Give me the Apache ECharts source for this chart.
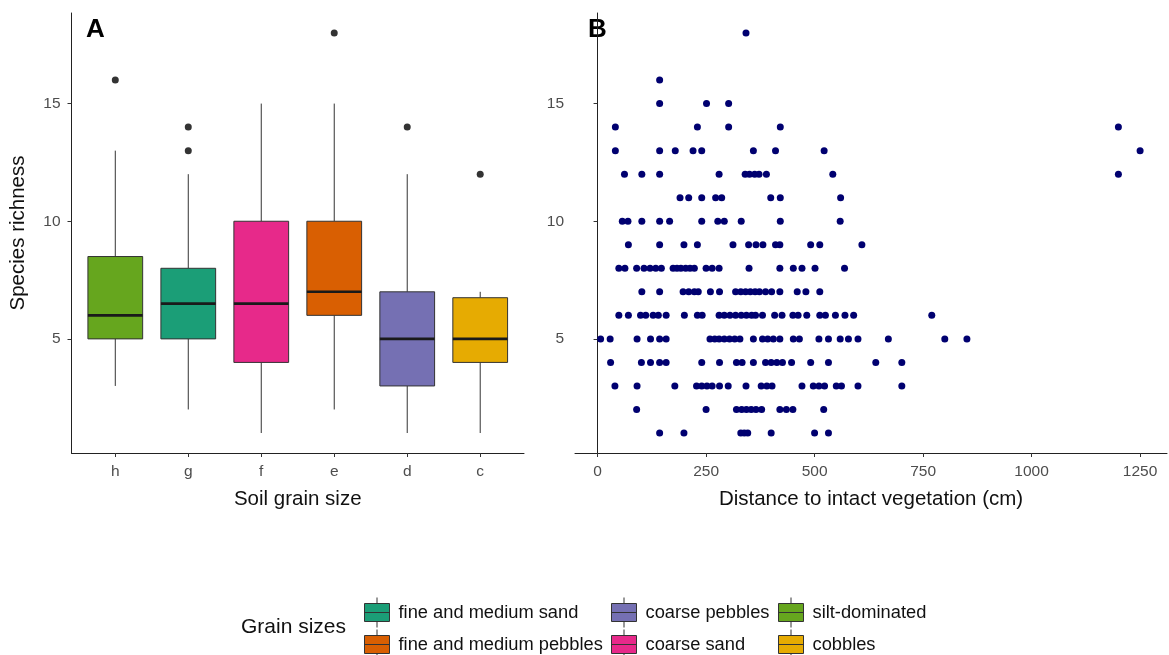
<!DOCTYPE html>
<html>
<head>
<meta charset="utf-8">
<script src="https://cdn.jsdelivr.net/npm/echarts@6/dist/echarts.min.js"></script>
<style>
  html, body { margin: 0; padding: 0; background: #fff; }
  #chart { width: 1169px; height: 655px; }
</style>
</head>
<body>
<div id="chart"></div>
<script>
  // panel A: boxplots, order h..c on the axis
  const grainCodes = ['h', 'g', 'f', 'e', 'd', 'c'];
  const grainNames = ['silt-dominated', 'fine and medium sand', 'coarse sand',
                      'fine and medium pebbles', 'coarse pebbles', 'cobbles'];
  const grainColors = ['#66a61e', '#1b9e77', '#e7298a', '#d95f02', '#7570b3', '#e6ab02'];
  // [low whisker, Q1, median, Q3, high whisker]
  const boxStats = [
    [3, 5, 6, 8.5, 13],
    [2, 5, 6.5, 8, 12],
    [1, 4, 6.5, 10, 15],
    [2, 6, 7, 10, 15],
    [1, 3, 5, 7, 12],
    [1, 4, 5, 6.75, 7]
  ];
  const outliers = [[1, 16], [2, 14], [2, 13], [4, 18], [5, 14], [6, 12]];

  // panel B: distance (cm) of each plot, grouped by species richness
  const r18 = [342];
  const r16 = [143];
  const r15 = [143, 251, 302];
  const r14 = [41, 230, 302, 421, 1200];
  const r13 = [41, 143, 179, 220, 240, 359, 410, 522, 1250];
  const r12 = [62, 102, 143, 280, 340, 350, 362, 372, 389, 542, 1200];
  const r11 = [190, 210, 240, 272, 286, 399, 421, 560];
  const r10 = [57, 70, 102, 143, 166, 240, 277, 292, 331, 421, 559];
  const r9 = [71, 143, 199, 230, 312, 348, 365, 381, 410, 420, 491, 512, 609];
  const r8 = [49, 63, 90, 107, 121, 134, 147, 174, 183, 192, 203, 213, 223, 250, 264, 280,
              349, 420, 451, 471, 501, 569];
  const r7 = [102, 143, 197, 210, 223, 232, 260, 281, 318, 330, 341, 352, 363, 373, 387, 401,
              420, 460, 480, 512];
  const r6 = [49, 71, 99, 111, 128, 140, 158, 200, 230, 241, 280, 292, 305, 318, 331, 343, 355,
              364, 380, 408, 425, 450, 462, 482, 512, 525, 548, 570, 590, 770];
  const r5 = [7, 29, 91, 122, 143, 158, 259, 270, 280, 292, 304, 316, 328, 359, 380, 392, 405,
              420, 451, 465, 510, 532, 559, 578, 600, 670, 800, 851];
  const r4 = [30, 101, 122, 143, 158, 240, 281, 320, 333, 359, 387, 400, 413, 426, 447, 491,
              532, 641, 701];
  const r3 = [40, 91, 178, 228, 240, 252, 264, 281, 301, 342, 377, 390, 402, 471, 497, 510,
              523, 550, 562, 600, 701];
  const r2 = [90, 250, 320, 332, 343, 354, 365, 378, 420, 435, 450, 521];
  const r1 = [143, 199, 330, 338, 346, 400, 500, 532];

  const rows = [[18, r18], [16, r16], [15, r15], [14, r14], [13, r13], [12, r12], [11, r11],
                [10, r10], [9, r9], [8, r8], [7, r7], [6, r6], [5, r5], [4, r4], [3, r3],
                [2, r2], [1, r1]];
  const scatterPts = [];
  rows.forEach(([rich, list]) => list.forEach(d => scatterPts.push([d, rich])));

  const yTicks = [5, 10, 15];
  const xTicksB = [0, 250, 500, 750, 1000, 1250];

  const chart = echarts.init(document.getElementById('chart'), null, { renderer: 'canvas' });
  const FONT = 'Liberation Sans, Arial, sans-serif';

  const axisLine = { show: true, lineStyle: { color: '#222', width: 1 } };
  const axisTick = (vals) => ({ show: true, length: 4, customValues: vals, lineStyle: { color: '#333', width: 1 } });
  const axisLabel = (vals, extra) => Object.assign({
    customValues: vals, color: '#4d4d4d', fontSize: 15.5, fontFamily: FONT, margin: 11,
    formatter: v => String(v)
  }, extra || {});

  function yAxisFor(idx, withName) {
    return {
      gridIndex: idx, type: 'value', min: 0.15, max: 18.85,
      name: withName ? 'Species richness' : '',
      nameLocation: 'middle', nameGap: 43,
      nameTextStyle: { fontSize: 20.5, color: '#111', fontFamily: FONT },
      axisLine: axisLine, axisTick: axisTick(yTicks), axisLabel: axisLabel(yTicks),
      splitLine: { show: false }
    };
  }

  function renderBox(params, api) {
    const x = api.value(0);
    const hw = 0.375;
    const pLow = api.coord([x, api.value(1)]);
    const pQ1 = api.coord([x, api.value(2)]);
    const pMed = api.coord([x, api.value(3)]);
    const pQ3 = api.coord([x, api.value(4)]);
    const pHigh = api.coord([x, api.value(5)]);
    const left = api.coord([x - hw, 0])[0];
    const right = api.coord([x + hw, 0])[0];
    const stroke = { stroke: '#333', lineWidth: 1 };
    return {
      type: 'group',
      children: [
        { type: 'line', shape: { x1: pQ3[0], y1: pQ3[1], x2: pHigh[0], y2: pHigh[1] }, style: stroke },
        { type: 'line', shape: { x1: pQ1[0], y1: pQ1[1], x2: pLow[0], y2: pLow[1] }, style: stroke },
        { type: 'rect', shape: { x: left, y: pQ3[1], width: right - left, height: pQ1[1] - pQ3[1] },
          style: { fill: api.visual('color'), stroke: '#333', lineWidth: 1 } },
        { type: 'line', shape: { x1: left, y1: pMed[1], x2: right, y2: pMed[1] },
          style: { stroke: '#1a1a1a', lineWidth: 2.6 } }
      ]
    };
  }

  const boxSeries = grainCodes.map((code, i) => ({
    name: grainNames[i],
    type: 'custom',
    xAxisIndex: 0, yAxisIndex: 0,
    color: grainColors[i],
    itemStyle: { color: grainColors[i], borderColor: '#333', borderWidth: 1 },
    renderItem: renderBox,
    encode: { x: 0, y: [1, 2, 3, 4, 5] },
    data: [[i + 1].concat(boxStats[i])],
    silent: true
  }));

  const legendIcon = 'path://M0,6 H25 V24 H0 Z M12.5,0 V6 M12.5,24 V30 M0,15 H25';
  const legendCol = (left, names) => ({
    orient: 'vertical', left: left, top: 597, height: 80, padding: 0,
    itemWidth: 25, itemHeight: 30, itemGap: 1,
    icon: legendIcon, selectedMode: false, data: names,
    itemStyle: { borderColor: '#333', borderWidth: 1 },
    textStyle: { fontSize: 18.3, color: '#111', fontFamily: FONT, padding: [0, 0, 0, 4] }
  });

  chart.setOption({
    backgroundColor: '#fff',
    animation: false,
    grid: [
      { left: 71.5, top: 13, width: 452.5, height: 440 },
      { left: 575, top: 13, width: 592, height: 440 }
    ],
    xAxis: [
      {
        gridIndex: 0, type: 'value', min: 0.4, max: 6.6,
        name: 'Soil grain size', nameLocation: 'middle', nameGap: 36,
        nameTextStyle: { fontSize: 20.5, color: '#111', fontFamily: FONT },
        axisLine: axisLine, axisTick: axisTick([1, 2, 3, 4, 5, 6]),
        axisLabel: axisLabel([1, 2, 3, 4, 5, 6], { formatter: v => grainCodes[Math.round(v) - 1] }),
        splitLine: { show: false }
      },
      {
        gridIndex: 1, type: 'value', min: -52, max: 1312,
        name: 'Distance to intact vegetation (cm)', nameLocation: 'middle', nameGap: 36,
        nameTextStyle: { fontSize: 20.5, color: '#111', fontFamily: FONT },
        axisLine: axisLine, axisTick: axisTick(xTicksB), axisLabel: axisLabel(xTicksB),
        splitLine: { show: false }
      }
    ],
    yAxis: [yAxisFor(0, true), yAxisFor(1, false)],
    legend: [
      legendCol(364, ['fine and medium sand', 'fine and medium pebbles']),
      legendCol(611, ['coarse pebbles', 'coarse sand']),
      legendCol(778, ['silt-dominated', 'cobbles'])
    ],
    graphic: [
      { type: 'text', left: 86, top: 17, style: { text: 'A', fontSize: 26, fontWeight: 'bold', fill: '#000', fontFamily: FONT } },
      { type: 'text', left: 588, top: 17, style: { text: 'B', fontSize: 26, fontWeight: 'bold', fill: '#000', fontFamily: FONT } },
      { type: 'text', left: 241, top: 617, style: { text: 'Grain sizes', fontSize: 21, fill: '#111', fontFamily: FONT } }
    ],
    series: boxSeries.concat([
      {
        type: 'scatter', xAxisIndex: 0, yAxisIndex: 0, data: outliers,
        symbolSize: 7, itemStyle: { color: '#333', opacity: 1 }, silent: true
      },
      {
        type: 'scatter', xAxisIndex: 1, yAxisIndex: 1, data: scatterPts,
        symbolSize: 7, itemStyle: { color: '#000070', opacity: 1 }, silent: true
      }
    ])
  });

  window.addEventListener('resize', () => chart.resize());
</script>
</body>
</html>
